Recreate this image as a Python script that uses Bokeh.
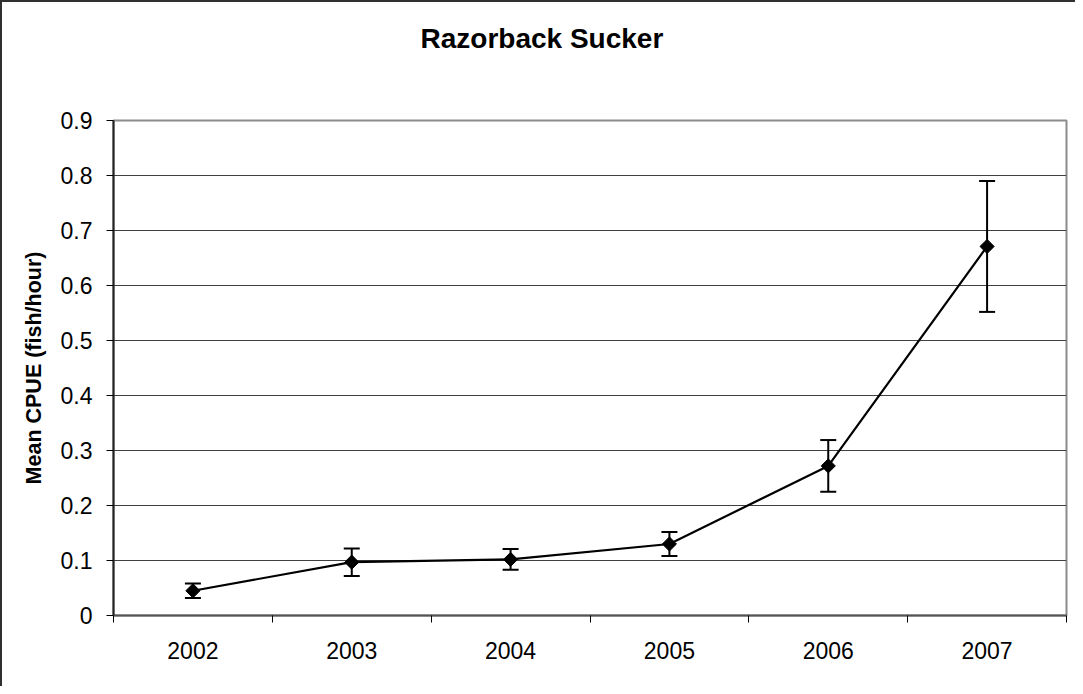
import math
from bokeh.plotting import figure
from bokeh.models import (ColumnDataSource, FixedTicker, Range1d, Whisker, TeeHead, Title)
from bokeh.embed import file_html
from bokeh.resources import INLINE

# ---- data ----
years = ["2002", "2003", "2004", "2005", "2006", "2007"]
mean_cpue = [0.045, 0.097, 0.102, 0.130, 0.272, 0.671]
cpue_err = [0.013, 0.025, 0.019, 0.022, 0.047, 0.119]
y_ticks = [0, 0.1, 0.2, 0.3, 0.4, 0.5, 0.6, 0.7, 0.8, 0.9]
y_tick_labels = ["0", "0.1", "0.2", "0.3", "0.4", "0.5", "0.6", "0.7", "0.8", "0.9"]
chart_title = "Razorback Sucker"

xpos = [i + 0.5 for i in range(len(years))]
src = ColumnDataSource(dict(
    x=xpos, y=mean_cpue,
    upper=[m + e for m, e in zip(mean_cpue, cpue_err)],
    lower=[m - e for m, e in zip(mean_cpue, cpue_err)],
))

FONT = "Liberation Sans"

p = figure(width=1075, height=686, output_backend="svg", toolbar_location=None,
           x_range=Range1d(0, len(years)), y_range=Range1d(0, 0.9),
           min_border_left=113, min_border_right=9, min_border_top=120, min_border_bottom=71,
           title=None)
p.styles = {"box-shadow": "inset 2px 2px 0 #303030"}
p.border_fill_color = None
p.background_fill_color = "white"
p.outline_line_color = "#8c8c8c"
p.outline_line_width = 2

# spacer panel next to the frame pushes the title up into the top border
spacer = Title(text=" ", text_font_size="1px", standoff=64, text_color="white")
p.add_layout(spacer, "above")
title = Title(text=chart_title, align="left", offset=307, standoff=0, vertical_align="bottom",
              text_font=FONT, text_font_size="28px", text_font_style="bold", text_color="black")
p.add_layout(title, "above")

# x axis: labels at centres, tick marks at category boundaries
xa = p.xaxis[0]
xa.ticker = FixedTicker(ticks=xpos, minor_ticks=list(range(len(years) + 1)))
xa.major_label_overrides = {x: y for x, y in zip(xpos, years)}
xa.major_tick_out = 0
xa.major_tick_in = 0
xa.minor_tick_out = 7
xa.minor_tick_in = 0
xa.minor_tick_line_color = "black"
xa.axis_line_color = "#555555"
xa.axis_line_width = 2
xa.major_label_text_font = FONT
xa.major_label_text_font_size = "23px"
xa.major_label_text_color = "black"
xa.major_label_standoff = 19

ya = p.yaxis[0]
ya.ticker = FixedTicker(ticks=y_ticks)
ya.major_label_overrides = {t: l for t, l in zip(y_ticks, y_tick_labels)}
ya.major_tick_out = 7
ya.major_tick_in = 0
ya.minor_tick_out = 0
ya.minor_tick_in = 0
ya.major_tick_line_color = "black"
ya.axis_line_color = "#222222"
ya.axis_line_width = 2
ya.major_label_text_font = FONT
ya.major_label_text_font_size = "23px"
ya.major_label_text_color = "black"
ya.major_label_standoff = 14
ya.axis_label = "Mean CPUE (fish/hour)"
ya.axis_label_text_font = FONT
ya.axis_label_text_font_size = "21.5px"
ya.axis_label_text_font_style = "bold"
ya.axis_label_text_color = "black"
ya.axis_label_standoff = 12

p.xgrid.visible = False
p.ygrid.ticker = FixedTicker(ticks=y_ticks[1:-1])
p.ygrid.grid_line_color = "#404040"
p.ygrid.grid_line_width = 1

whisk = Whisker(source=src, base="x", upper="upper", lower="lower", dimension="height",
                line_color="black", line_width=2,
                upper_head=TeeHead(size=16, line_color="black", line_width=2),
                lower_head=TeeHead(size=16, line_color="black", line_width=2))
p.add_layout(whisk)

p.line("x", "y", source=src, line_color="black", line_width=2.2)
p.scatter("x", "y", source=src, marker="square", angle=math.pi / 4, size=10,
          fill_color="black", line_color="black")

open("out.html", "w").write(file_html(p, INLINE))
